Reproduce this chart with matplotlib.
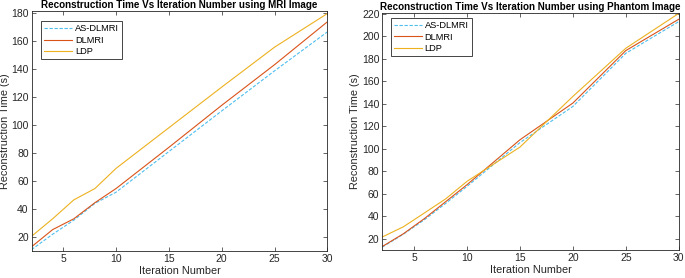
import matplotlib
matplotlib.use("Agg")
import matplotlib.pyplot as plt

iterations = [2, 4, 6, 8, 10, 15, 20, 25, 30]

mri_as_dlmri = [11, 22, 32, 44, 52, 81, 110, 138.6, 166.4]
mri_dlmri = [13, 25.3, 33, 44.5, 54.6, 84, 114, 143, 173.6]
mri_ldp = [20.5, 33, 46.5, 54.6, 69, 98, 127, 155.5, 179.5]

ph_as_dlmri = [12.5, 24, 37, 51.5, 66.5, 105.5, 137.7, 185, 213.2]
ph_dlmri = [13, 24.4, 38, 53, 68, 108, 140.7, 187.4, 215.3]
ph_ldp = [21.5, 30.6, 43, 55.5, 71, 101.5, 146.6, 189.5, 220.5]

series_labels = ["AS-DLMRI", "DLMRI", "LDP"]
titles = ["Reconstruction Time Vs Iteration Number using MRI Image",
          "Reconstruction Time Vs Iteration Number using Phantom Image"]

plt.rcParams['font.family'] = ['Liberation Sans', 'DejaVu Sans']

c_blue = (0.301, 0.745, 0.933)
c_red = (0.85, 0.325, 0.098)
c_yel = (0.929, 0.694, 0.125)
gray = (0.15, 0.15, 0.15)

fig = plt.figure(figsize=(6.85, 2.78), dpi=100)
ax1 = fig.add_axes([0.046, 0.097, 0.432, 0.863])
ax2 = fig.add_axes([0.558, 0.101, 0.433, 0.853])

configs = [
    (ax1, [mri_as_dlmri, mri_dlmri, mri_ldp], (10, 181.2), list(range(20, 181, 20)), (0.032, 0.958)),
    (ax2, [ph_as_dlmri, ph_dlmri, ph_ldp], (10, 221), list(range(20, 221, 20)), (0.028, 0.978)),
]

for i, (ax, data, ylim, yticks, lpos) in enumerate(configs):
    ax.plot(iterations, data[0], color=c_blue, lw=0.8, ls=(0, (3, 1.5)), label=series_labels[0])
    ax.plot(iterations, data[1], color=c_red, lw=0.8, label=series_labels[1])
    ax.plot(iterations, data[2], color=c_yel, lw=0.8, label=series_labels[2])
    ax.set_xlim(2, 30)
    ax.set_ylim(*ylim)
    ax.set_xticks([5, 10, 15, 20, 25, 30])
    ax.set_yticks(yticks)
    ax.tick_params(direction='in', top=True, right=True, length=3, width=0.5,
                   labelsize=7.5, colors=gray, pad=2)
    for sp in ax.spines.values():
        sp.set_color(gray)
        sp.set_linewidth(0.6)
    ax.set_xlabel("Iteration Number", fontsize=7.8, color=gray, labelpad=1.5)
    ax.set_ylabel("Reconstruction Time (s)", fontsize=7.8, color=gray, labelpad=1.2)
    ax.set_title(titles[i], fontsize=7.1, fontweight='bold', pad=2)
    leg = ax.legend(loc='upper left', bbox_to_anchor=lpos, fontsize=6.7,
                    handlelength=3.0, handletextpad=0.3, borderpad=0.35,
                    labelspacing=0.25, fancybox=False, framealpha=1,
                    borderaxespad=0)
    leg.get_frame().set_edgecolor(gray)
    leg.get_frame().set_linewidth(0.6)

fig.savefig("out.png", dpi=100)
